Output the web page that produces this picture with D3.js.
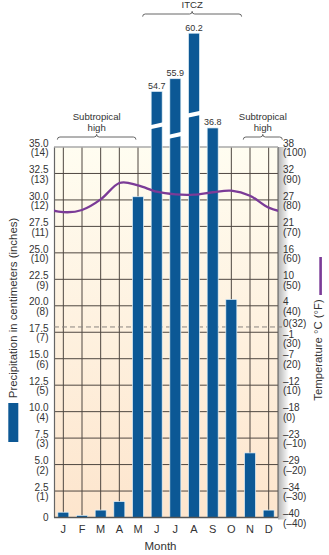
<!DOCTYPE html>
<html><head><meta charset="utf-8">
<script src="https://cdn.jsdelivr.net/npm/d3@7"></script>
<style>
html,body{margin:0;padding:0;background:#fff;}
svg{display:block;font-family:"Liberation Sans",Arial,Helvetica,sans-serif;}
</style></head><body>
<svg id="chart" width="329" height="555"></svg>
<script>
// ---------- data ----------
const months = ["J","F","M","A","M","J","J","A","S","O","N","D"];
const precipCm = [0.5, 0.2, 0.7, 1.5, 30.3, 54.7, 55.9, 60.2, 36.8, 20.6, 6.1, 0.7];
const tempF = [75.4, 76.2, 80.2, 86.4, 85.5, 83.1, 82.1, 82.0, 82.9, 83.5, 81.6, 77.1];
const cmTicks = [0, 2.5, 5, 7.5, 10, 12.5, 15, 17.5, 20, 22.5, 25, 27.5, 30, 32.5, 35];
const cmTickLabels = ["0","2.5","5.0","7.5","10.0","12.5","15.0","17.5","20.0","22.5","25.0","27.5","30.0","32.5","35.0"];
const inchTickLabels = ["","(1)","(2)","(3)","(4)","(5)","(6)","(7)","(8)","(9)","(10)","(11)","(12)","(13)","(14)"];
const fTicks = [-40, -30, -20, -10, 0, 10, 20, 30, 40, 50, 60, 70, 80, 90, 100];
const cTickLabels = ["\u201340","\u201334","\u201329","\u201323","\u201318","\u201312","\u20137","\u20131","4","10","16","21","27","32","38"];
const fTickLabels = ["(\u201340)","(\u201330)","(\u201320)","(\u201310)","(0)","(10)","(20)","(30)","(40)","(50)","(60)","(70)","(80)","(90)","(100)"];
const freezingF = 32;
const freezingLabel = "0(32)";
const axisMaxCm = 35;
const brokenCut = 14.45;              // cm omitted from the broken (very tall) bars
const breakLevelCm = {5: 37.0, 6: 36.1, 7: 38.1}; // where the break is drawn (display cm)
const annotations = [
  {lines: ["ITCZ"], from: 4.75, to: 10.05, row: "top"},
  {lines: ["Subtropical", "high"], from: 0.18, to: 4.39, row: "mid"},
  {lines: ["Subtropical", "high"], from: 10.14, to: 12.23, row: "mid"}
];

// ---------- layout ----------
const svg = d3.select("#chart");
const L = 54, R = 278, T = 147, B = 517.5;

const x = d3.scaleBand().domain(d3.range(12)).range([L, R]).paddingInner(0.41).paddingOuter(0.205);
const y = d3.scaleLinear().domain([0, axisMaxCm]).range([B, T]);
const yF = d3.scaleLinear().domain([-40, 100]).range([B, T]);
const step = x.step();
const cx = i => L + step * (i + 0.5);
const mpos = m => L + step * m;

const defs = svg.append("defs");
const bg = defs.append("linearGradient").attr("id","bg").attr("x1",0).attr("x2",0).attr("y1",0).attr("y2",1);
bg.append("stop").attr("offset","0%").attr("stop-color","#fffdf1");
bg.append("stop").attr("offset","100%").attr("stop-color","#fde5cd");
const sh = defs.append("linearGradient").attr("id","sh").attr("x1",0).attr("x2",1).attr("y1",0).attr("y2",0);
sh.append("stop").attr("offset","0%").attr("stop-color","#000").attr("stop-opacity",0.3);
sh.append("stop").attr("offset","100%").attr("stop-color","#000").attr("stop-opacity",0);
defs.append("clipPath").attr("id","plotclip").append("rect")
  .attr("x", L).attr("y", T).attr("width", R - L).attr("height", B - T);

// shadow & background
svg.append("rect").attr("x", R).attr("y", T).attr("width", 11).attr("height", B - T + 2).attr("fill","url(#sh)");
svg.append("rect").attr("x", L).attr("y", T).attr("width", R - L).attr("height", B - T).attr("fill","url(#bg)");

// grid
const grid = svg.append("g").attr("stroke","#4f4741").attr("stroke-width",1);
grid.selectAll("line.h").data(cmTicks.filter(d => d > 0 && d < axisMaxCm)).join("line")
  .attr("x1", L).attr("x2", R).attr("y1", d => y(d)).attr("y2", d => y(d));
grid.selectAll("line.v").data(d3.range(12)).join("line")
  .attr("x1", d => cx(d)).attr("x2", d => cx(d)).attr("y1", T).attr("y2", B);
svg.append("line").attr("x1", L + 0.5).attr("x2", L + 0.5).attr("y1", T).attr("y2", B).attr("stroke","#666").attr("stroke-width",1.2);
svg.append("line").attr("x1", R).attr("x2", R).attr("y1", T).attr("y2", B).attr("stroke","#555").attr("stroke-width",1);
svg.append("line").attr("x1", L).attr("x2", R).attr("y1", T).attr("y2", T).attr("stroke","#a8a8a8").attr("stroke-width",1.5);

// freezing dashed line
svg.append("line").attr("x1", L).attr("x2", R + 4).attr("y1", yF(freezingF)).attr("y2", yF(freezingF))
  .attr("stroke","#8a8580").attr("stroke-width",1).attr("stroke-dasharray","5,3");

// bars
const disp = v => v > 40 ? v - brokenCut : v;
const bars = svg.append("g");
bars.selectAll("rect").data(precipCm).join("rect")
  .attr("x", (d, i) => x(i)).attr("width", x.bandwidth())
  .attr("y", d => y(disp(d))).attr("height", d => B - y(disp(d)))
  .attr("fill","#0c5895").attr("stroke","#e4f1f8").attr("stroke-width",0.7);

// breaks
Object.keys(breakLevelCm).forEach(k => {
  const i = +k, yc = y(breakLevelCm[k]), x0 = x(i) - 1, x1 = x(i) + x.bandwidth() + 1, s = 1.4, g = 2.1;
  svg.append("polygon").attr("fill","#fff")
    .attr("points", [[x0, yc - g + s], [x1, yc - g - s], [x1, yc + g - s], [x0, yc + g + s]].map(p => p.join(",")).join(" "));
});

// value labels for tall bars
svg.append("g").selectAll("text").data(precipCm.map((v, i) => ({v, i})).filter(d => d.v > axisMaxCm)).join("text")
  .attr("x", d => cx(d.i)).attr("y", d => y(disp(d.v)) - 2.5)
  .attr("text-anchor","middle").attr("font-size", 9).attr("fill","#333").text(d => d.v.toFixed(1));

// bottom axis line
svg.append("line").attr("x1", L).attr("x2", R).attr("y1", B).attr("y2", B).attr("stroke","#555").attr("stroke-width",1.6);

// temperature curve (cyclic)
const ext = d3.range(-2, 14).map(i => [cx(i), yF(tempF[(i + 12) % 12])]);
svg.append("path").attr("clip-path","url(#plotclip)")
  .attr("d", d3.line().curve(d3.curveCardinal)(ext))
  .attr("fill","none").attr("stroke","#7b3b97").attr("stroke-width",2.3);

// left tick labels
const lt = svg.append("g").attr("font-size", 10).attr("fill","#333").attr("text-anchor","end");
cmTicks.forEach((v, i) => {
  if (v === 0) {
    lt.append("text").attr("x", 48.5).attr("y", y(v) + 3.6).text(cmTickLabels[i]);
  } else {
    lt.append("text").attr("x", 48.5).attr("y", y(v) - 0.3).text(cmTickLabels[i]);
    lt.append("text").attr("x", 48.5).attr("y", y(v) + 9.2).text(inchTickLabels[i]);
  }
});

// right tick labels
const rt = svg.append("g").attr("font-size", 10).attr("fill","#333").attr("text-anchor","start");
fTicks.forEach((f, i) => {
  const off = (f === 30) ? 6 : 0;
  rt.append("text").attr("x", 283).attr("y", yF(f) - 0.3 + off).text(cTickLabels[i]);
  rt.append("text").attr("x", 283).attr("y", yF(f) + 9.2 + off).text(fTickLabels[i]);
});
rt.append("text").attr("x", 283).attr("y", yF(freezingF) + 0.3).text(freezingLabel);

// month labels
svg.append("g").selectAll("text").data(months).join("text")
  .attr("x", (d, i) => cx(i)).attr("y", 533).attr("text-anchor","middle")
  .attr("font-size", 11).attr("fill","#333").text(d => d);
svg.append("text").attr("x", 160.5).attr("y", 550).attr("text-anchor","middle")
  .attr("font-size", 11.5).attr("fill","#333").text("Month");

// axis titles
svg.append("text").attr("transform","translate(16.5,308) rotate(-90)").attr("text-anchor","middle")
  .attr("font-size", 11.4).attr("fill","#333").text("Precipitation in centimeters (inches)");
svg.append("rect").attr("x", 8.3).attr("y", 403).attr("width", 10).attr("height", 39).attr("fill","#0c5895");
svg.append("text").attr("transform","translate(322.3,350) rotate(-90)").attr("text-anchor","middle")
  .attr("font-size", 11.3).attr("fill","#333").text("Temperature \u00b0C (\u00b0F)");
svg.append("rect").attr("x", 319.3).attr("y", 257).attr("width", 2.6).attr("height", 38).attr("fill","#7b3b97");

// annotations with braces
function brace(x1, x2, yy, h) {
  const xm = (x1 + x2) / 2;
  return `M${x1},${yy + h} Q${x1},${yy} ${x1 + h},${yy} L${xm - h},${yy} Q${xm},${yy} ${xm},${yy - h} Q${xm},${yy} ${xm + h},${yy} L${x2 - h},${yy} Q${x2},${yy} ${x2},${yy + h}`;
}
annotations.forEach(a => {
  const x1 = mpos(a.from), x2 = mpos(a.to), xm = (x1 + x2) / 2;
  const by = a.row === "top" ? 14 : 137;
  svg.append("path").attr("d", brace(x1, x2, by, 2.6)).attr("fill","none").attr("stroke","#555").attr("stroke-width",0.9);
  const baseY = a.row === "top" ? 8 : 120.3;
  a.lines.forEach((t, k) => {
    svg.append("text").attr("x", xm).attr("y", baseY + k * 10.2).attr("text-anchor","middle")
      .attr("font-size", 9.6).attr("fill","#333").text(t);
  });
});
</script>
</body></html>
